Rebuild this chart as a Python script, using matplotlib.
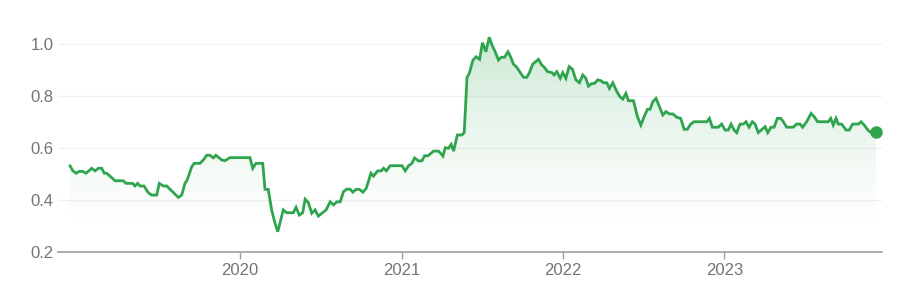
import numpy as np
import pandas as pd
import matplotlib
matplotlib.use("Agg")
import matplotlib.pyplot as plt
import matplotlib.dates as mdates
from matplotlib.patches import Polygon
from matplotlib.colors import LinearSegmentedColormap

# Data: time in decimal years, price values
years = [
    2018.947, 2018.963, 2018.984, 2019.004, 2019.025, 2019.046, 2019.081, 2019.102, 2019.122, 2019.143,
    2019.159, 2019.174, 2019.226, 2019.277, 2019.294, 2019.335, 2019.349, 2019.366, 2019.380, 2019.405,
    2019.432, 2019.453, 2019.484, 2019.500, 2019.525, 2019.546, 2019.618, 2019.639, 2019.659, 2019.673,
    2019.701, 2019.717, 2019.752, 2019.773, 2019.794, 2019.814, 2019.835, 2019.851, 2019.887, 2019.907,
    2019.938, 2020.062, 2020.079, 2020.099, 2020.141, 2020.155, 2020.175, 2020.196, 2020.217, 2020.234,
    2020.268, 2020.289, 2020.330, 2020.347, 2020.367, 2020.388, 2020.403, 2020.423, 2020.444, 2020.465,
    2020.485, 2020.533, 2020.558, 2020.578, 2020.599, 2020.620, 2020.640, 2020.661, 2020.682, 2020.698,
    2020.719, 2020.739, 2020.760, 2020.781, 2020.810, 2020.826, 2020.851, 2020.874, 2020.888, 2020.905,
    2020.929, 2021.002, 2021.022, 2021.043, 2021.064, 2021.080, 2021.105, 2021.126, 2021.142, 2021.163,
    2021.198, 2021.229, 2021.256, 2021.270, 2021.291, 2021.307, 2021.322, 2021.345, 2021.374, 2021.388,
    2021.405, 2021.419, 2021.442, 2021.462, 2021.483, 2021.501, 2021.522, 2021.543, 2021.560, 2021.580,
    2021.600, 2021.617, 2021.638, 2021.659, 2021.673, 2021.693, 2021.714, 2021.755, 2021.776, 2021.792,
    2021.813, 2021.848, 2021.869, 2021.885, 2021.904, 2021.931, 2021.945, 2021.962, 2021.983, 2021.999,
    2022.018, 2022.038, 2022.059, 2022.080, 2022.102, 2022.123, 2022.142, 2022.158, 2022.179, 2022.195,
    2022.216, 2022.235, 2022.251, 2022.272, 2022.288, 2022.309, 2022.334, 2022.354, 2022.371, 2022.390,
    2022.406, 2022.437, 2022.462, 2022.483, 2022.503, 2022.524, 2022.540, 2022.557, 2022.577, 2022.598,
    2022.619, 2022.639, 2022.660, 2022.681, 2022.706, 2022.730, 2022.751, 2022.771, 2022.792, 2022.813,
    2022.892, 2022.908, 2022.926, 2022.963, 2022.984, 2023.005, 2023.025, 2023.042, 2023.061, 2023.077,
    2023.098, 2023.118, 2023.135, 2023.154, 2023.174, 2023.191, 2023.211, 2023.253, 2023.270, 2023.290,
    2023.309, 2023.329, 2023.350, 2023.366, 2023.387, 2023.428, 2023.449, 2023.470, 2023.486, 2023.511,
    2023.538, 2023.558, 2023.579, 2023.645, 2023.660, 2023.676, 2023.693, 2023.707, 2023.728, 2023.755,
    2023.775, 2023.796, 2023.831, 2023.848, 2023.868, 2023.893, 2023.914, 2023.941,
]
prices = [
    0.531, 0.513, 0.503, 0.510, 0.510, 0.503, 0.522, 0.512, 0.522, 0.522,
    0.503, 0.503, 0.474, 0.474, 0.464, 0.464, 0.454, 0.464, 0.454, 0.454,
    0.428, 0.419, 0.419, 0.464, 0.454, 0.454, 0.410, 0.419, 0.464, 0.477,
    0.528, 0.541, 0.541, 0.554, 0.572, 0.572, 0.562, 0.572, 0.554, 0.551,
    0.563, 0.563, 0.522, 0.541, 0.541, 0.441, 0.441, 0.362, 0.310, 0.278,
    0.362, 0.351, 0.351, 0.372, 0.342, 0.351, 0.403, 0.390, 0.349, 0.362,
    0.338, 0.362, 0.393, 0.381, 0.393, 0.393, 0.432, 0.442, 0.441, 0.430,
    0.441, 0.441, 0.430, 0.445, 0.503, 0.492, 0.512, 0.512, 0.522, 0.512,
    0.532, 0.532, 0.512, 0.532, 0.541, 0.562, 0.550, 0.551, 0.570, 0.570,
    0.588, 0.588, 0.569, 0.601, 0.599, 0.614, 0.588, 0.650, 0.650, 0.660,
    0.872, 0.887, 0.938, 0.951, 0.941, 1.005, 0.970, 1.026, 0.996, 0.970,
    0.938, 0.949, 0.949, 0.970, 0.954, 0.923, 0.910, 0.872, 0.872, 0.890,
    0.923, 0.941, 0.919, 0.910, 0.894, 0.890, 0.881, 0.894, 0.868, 0.890,
    0.868, 0.913, 0.903, 0.862, 0.851, 0.881, 0.868, 0.838, 0.848, 0.848,
    0.862, 0.859, 0.851, 0.851, 0.829, 0.851, 0.817, 0.797, 0.788, 0.810,
    0.782, 0.782, 0.720, 0.688, 0.720, 0.749, 0.749, 0.778, 0.791, 0.759,
    0.727, 0.740, 0.731, 0.731, 0.718, 0.714, 0.672, 0.672, 0.692, 0.701,
    0.701, 0.714, 0.680, 0.680, 0.692, 0.669, 0.669, 0.692, 0.669, 0.659,
    0.692, 0.692, 0.701, 0.680, 0.701, 0.692, 0.659, 0.682, 0.659, 0.680,
    0.680, 0.714, 0.714, 0.701, 0.680, 0.680, 0.692, 0.692, 0.680, 0.701,
    0.733, 0.720, 0.701, 0.701, 0.714, 0.688, 0.714, 0.692, 0.692, 0.669,
    0.669, 0.692, 0.692, 0.701, 0.688, 0.667, 0.659, 0.663,
]
y_ticks = [0.2, 0.4, 0.6, 0.8, 1.0]
x_tick_years = [2020, 2021, 2022, 2023]


def year_to_date(y):
    yr = int(np.floor(y))
    start = pd.Timestamp(year=yr, month=1, day=1)
    end = pd.Timestamp(year=yr + 1, month=1, day=1)
    return start + (end - start) * (y - yr)


dates = [year_to_date(y) for y in years]
xnum = mdates.date2num(dates)
vals = np.array(prices)

GREEN = "#2ea44f"
GRAY_TXT = "#70757a"

plt.rcParams["font.family"] = ["Liberation Sans", "DejaVu Sans"]

fig = plt.figure(figsize=(9.03, 2.97), dpi=100)
ax = fig.add_axes([58 / 903, 1 - 252 / 297, (882 - 58) / 903, (252 - 31) / 297])

ymin, ymax = 0.2, 1.05
xlo = mdates.date2num(year_to_date(2018.872))
xhi = mdates.date2num(year_to_date(2023.978))

# gridlines
for t in y_ticks[1:]:
    ax.axhline(t, color="#f1f1f1", lw=1.0, zorder=0)

# gradient fill under the line
top = vals.max()
grad = np.linspace(0, 1, 256).reshape(-1, 1) ** 1.3
cmap = LinearSegmentedColormap.from_list(
    "g", [(0.18, 0.64, 0.31, 0.0), (0.18, 0.64, 0.31, 0.24)]
)
im = ax.imshow(grad, extent=[xnum[0], xnum[-1], ymin + 0.08, top], origin="lower",
               aspect="auto", cmap=cmap, zorder=1, interpolation="bilinear")
poly_xy = np.column_stack([np.r_[xnum[0], xnum, xnum[-1]], np.r_[ymin, vals, ymin]])
clip = Polygon(poly_xy, closed=True, transform=ax.transData, facecolor="none", edgecolor="none")
ax.add_patch(clip)
im.set_clip_path(clip)
ax.set_xlim(xlo, xhi)
ax.set_ylim(ymin, ymax)

ax.plot(xnum, vals, color=GREEN, lw=2.0, zorder=3, solid_joinstyle="miter")
ax.plot([xnum[-1]], [vals[-1]], "o", color=GREEN, ms=9, zorder=4, markeredgewidth=0)

for s in ["top", "right", "left"]:
    ax.spines[s].set_visible(False)
ax.spines["bottom"].set_color("#9aa0a6")
ax.spines["bottom"].set_linewidth(1.2)

ax.set_yticks(y_ticks)
ax.set_yticklabels([f"{t:.1f}" for t in y_ticks])
ax.tick_params(axis="y", length=0, pad=3, labelsize=12, labelcolor=GRAY_TXT)
xt = [mdates.date2num(year_to_date(y)) for y in x_tick_years]
ax.set_xticks(xt)
ax.set_xticklabels([str(y) for y in x_tick_years])
ax.tick_params(axis="x", length=5, width=1.0, color="#9aa0a6", pad=3,
               labelsize=12, labelcolor=GRAY_TXT)
ax.set_facecolor("white")

fig.savefig("out.png", dpi=100, facecolor="white")
